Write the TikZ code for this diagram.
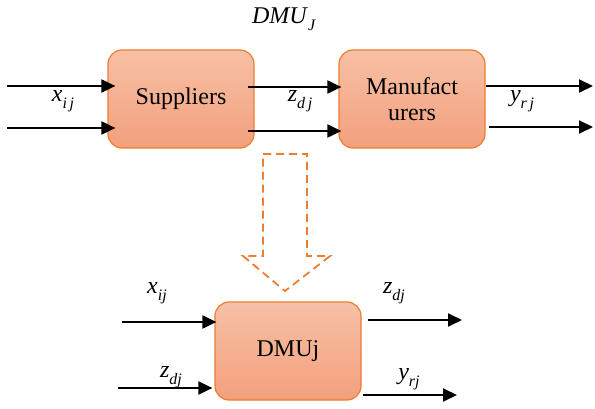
\documentclass[tikz,border=0pt]{standalone}
\usepackage{fontspec}
\setmainfont{Liberation Serif}
\usetikzlibrary{arrows.meta}
\definecolor{boxtop}{RGB}{247,192,166}
\definecolor{boxbot}{RGB}{243,160,124}
\definecolor{boxline}{RGB}{237,125,49}
\newcommand\sublab[2]{\textit{#1}\raisebox{-0.28em}{\fontsize{16}{18}\selectfont\textit{#2}}}
\tikzset{
  procbox/.style={draw=boxline, line width=1.2pt, rounded corners=14pt,
    top color=boxtop, bottom color=boxbot, minimum width=146pt, minimum height=98pt,
    font=\fontsize{24}{26}\selectfont, align=center, inner sep=0pt},
  flow/.style={line width=2pt, -{Triangle[length=14pt,width=13pt]}},
  lbl/.style={font=\fontsize{24}{26}\selectfont, inner sep=0pt},
  bigarrow/.style={draw=boxline, line width=1.8pt, dash pattern=on 8pt off 5pt, line join=miter}
}
\begin{document}
\begin{tikzpicture}[x=1pt,y=-1pt]
\useasboundingbox (0,0) rectangle (595,409);
% boxes
\node[procbox] (sup) at (181,99) {Suppliers};
\node[procbox] (man) at (412,99) {Manufact\\urers};
\node[procbox] (dmu) at (288,351) {DMUj};
% title
\node[lbl] (title) at (284,19) {\sublab{DMU}{J}};
% top row connectors
\coordinate (in1) at (7,86);
\coordinate (in2) at (7,128);
\draw[flow] (in1) -- ([xshift=8pt]sup.west |- in1);
\draw[flow] (in2) -- ([xshift=8pt]sup.west |- in2);
\coordinate (m1) at (248,87);
\coordinate (m2) at (248,131);
\draw[flow] (m1) -- ([xshift=3pt]man.west |- m1);
\draw[flow] (m2) -- ([xshift=3pt]man.west |- m2);
\coordinate (o1) at (593,86);
\coordinate (o2) at (593,127);
\draw[flow] (man.east |- o1) -- (o1);
\draw[flow] ([xshift=3pt]man.east |- o2) -- (o2);
\node[lbl] (lx1) at (63,101) {\sublab{x}{i\,j}};
\node[lbl] (lz1) at (300,101) {\sublab{z}{d\,j}};
\node[lbl] (ly1) at (522,101) {\sublab{y}{r\,j}};
% dashed hollow arrow
\draw[bigarrow] (263,154) -- (307,154) -- (307,256) -- (330,256) -- (285,291) -- (243,256) -- (263,256) -- cycle;
% bottom connectors
\coordinate (bi1) at (122,322);
\coordinate (bi2) at (118,388);
\draw[flow] (bi1) -- ([xshift=2pt]dmu.west |- bi1);
\draw[flow] (bi2) -- ([xshift=-2pt]dmu.west |- bi2);
\coordinate (bo1) at (462,320);
\coordinate (bo2) at (457,395);
\draw[flow] ([xshift=6pt]dmu.east |- bo1) -- (bo1);
\draw[flow] ([xshift=1pt]dmu.east |- bo2) -- (bo2);
\node[lbl] (lx2) at (157,293) {\sublab{x}{ij}};
\node[lbl] (lz2) at (171,377) {\sublab{z}{dj}};
\node[lbl] (lz3) at (394,293) {\sublab{z}{dj}};
\node[lbl] (ly2) at (409,379) {\sublab{y}{rj}};
\end{tikzpicture}
\end{document}
